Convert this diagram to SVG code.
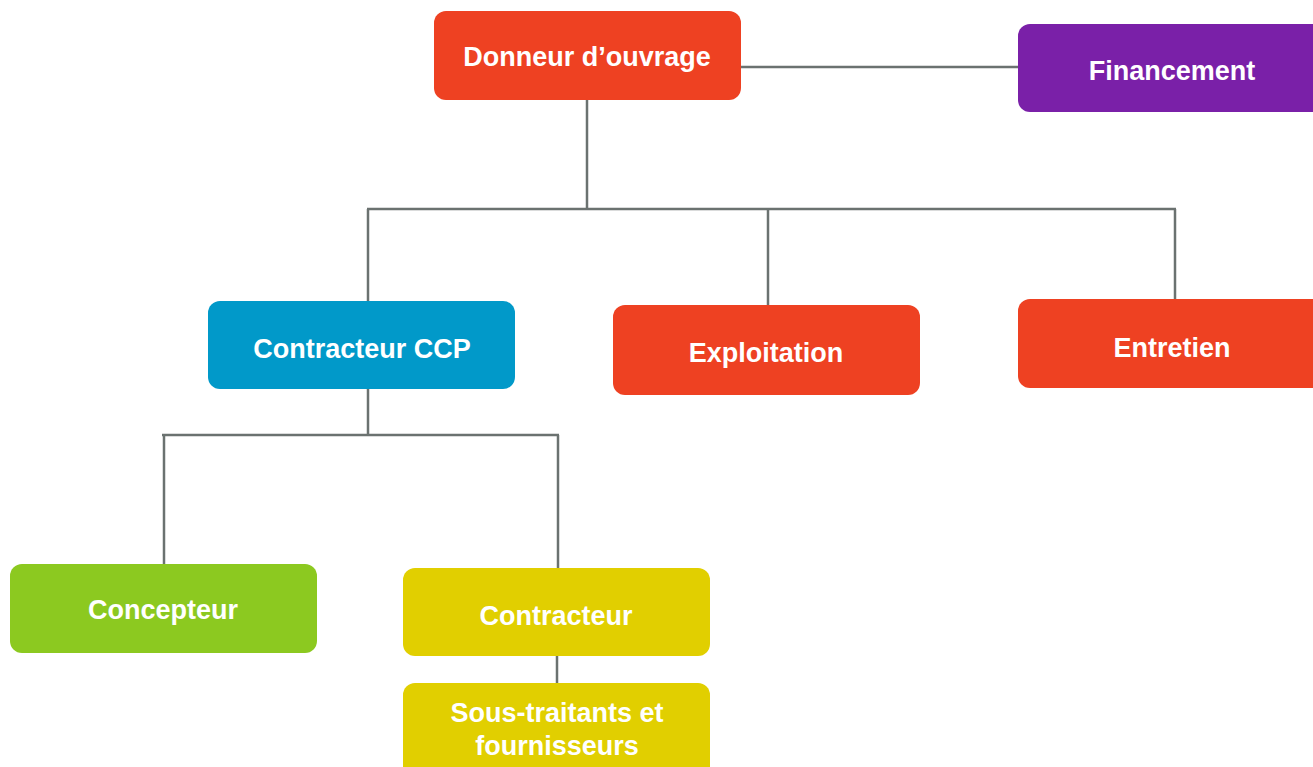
<svg xmlns="http://www.w3.org/2000/svg" width="1313" height="767" viewBox="0 0 1313 767">
<style>
.lbl{font-family:"Liberation Sans",Arial,sans-serif;font-weight:bold;font-size:27px;fill:#ffffff;text-anchor:middle}
.ln{stroke:#6b7270;stroke-width:2.5;fill:none}
</style>
<rect width="1313" height="767" fill="#ffffff"/>
<g id="connectors">
<line class="ln" x1="741" y1="67" x2="1018" y2="67"/>
<line class="ln" x1="587" y1="100" x2="587" y2="209"/>
<line class="ln" x1="367" y1="209" x2="1176" y2="209"/>
<line class="ln" x1="368" y1="209" x2="368" y2="301"/>
<line class="ln" x1="768" y1="209" x2="768" y2="305"/>
<line class="ln" x1="1175" y1="209" x2="1175" y2="299"/>
<line class="ln" x1="368" y1="389" x2="368" y2="435"/>
<line class="ln" x1="162" y1="435" x2="559" y2="435"/>
<line class="ln" x1="164" y1="435" x2="164" y2="564"/>
<line class="ln" x1="558" y1="435" x2="558" y2="568"/>
<line class="ln" x1="557" y1="656" x2="557" y2="683"/>
</g>
<g id="donneur">
<rect x="434" y="11" width="307" height="89" rx="12" fill="#ee4122"/>
<text class="lbl" x="587" y="66">Donneur d’ouvrage</text>
</g>
<g id="financement">
<rect x="1018" y="24" width="310" height="88" rx="12" fill="#7a20a8"/>
<text class="lbl" x="1172" y="80">Financement</text>
</g>
<g id="ccp">
<rect x="208" y="301" width="307" height="88" rx="12" fill="#0199c9"/>
<text class="lbl" x="362" y="358">Contracteur CCP</text>
</g>
<g id="exploitation">
<rect x="613" y="305" width="307" height="90" rx="12" fill="#ee4122"/>
<text class="lbl" x="766" y="362">Exploitation</text>
</g>
<g id="entretien">
<rect x="1018" y="299" width="310" height="89" rx="12" fill="#ee4122"/>
<text class="lbl" x="1172" y="357">Entretien</text>
</g>
<g id="concepteur">
<rect x="10" y="564" width="307" height="89" rx="12" fill="#8cc920"/>
<text class="lbl" x="163" y="619">Concepteur</text>
</g>
<g id="contracteur">
<rect x="403" y="568" width="307" height="88" rx="12" fill="#e1cf00"/>
<text class="lbl" x="556" y="625">Contracteur</text>
</g>
<g id="soustraitants">
<rect x="403" y="683" width="307" height="100" rx="12" fill="#e1cf00"/>
<text class="lbl" x="557" y="722">Sous-traitants et</text>
<text class="lbl" x="557" y="755">fournisseurs</text>
</g>
</svg>
